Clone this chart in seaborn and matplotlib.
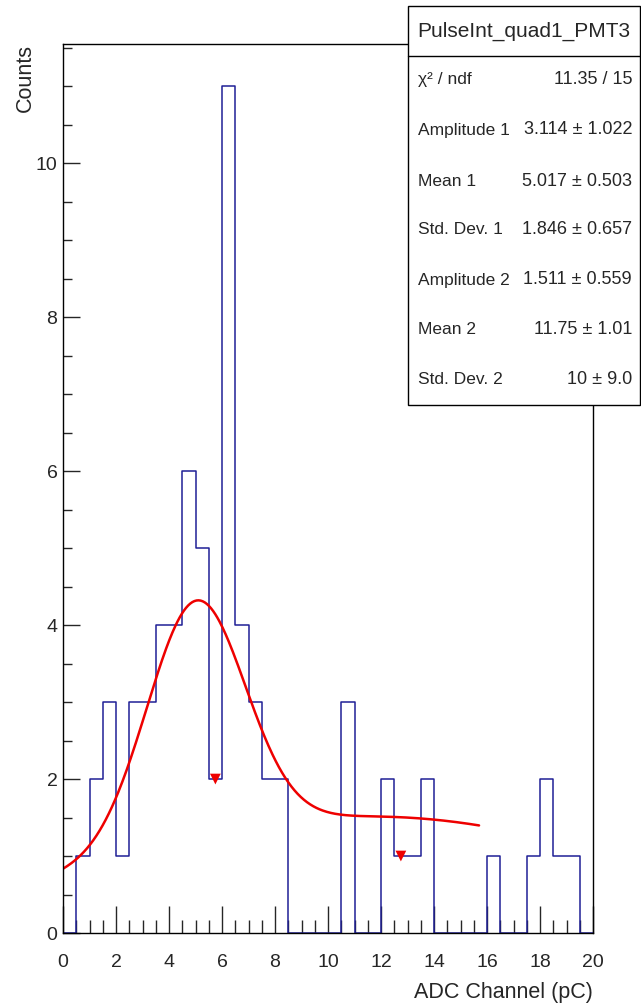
import numpy as np
import pandas as pd
import matplotlib
matplotlib.use("Agg")
import matplotlib.pyplot as plt
from matplotlib.ticker import MultipleLocator
from matplotlib.patches import Rectangle
from matplotlib.lines import Line2D
import seaborn as sns

# Histogram contents: 40 bins of 0.5 pC from 0 to 20 pC
bin_width = 0.5
x_range = (0.0, 20.0)
counts = [0, 1, 2, 3, 1, 3, 3, 4, 4, 6,
          5, 2, 11, 4, 3, 2, 2, 0, 0, 0,
          0, 3, 0, 0, 2, 1, 1, 2, 0, 0,
          0, 0, 1, 0, 0, 1, 2, 1, 1, 0]

# Double-Gaussian fit parameters
amp1, mean1, sigma1 = 3.114, 5.017, 1.846
amp2, mean2, sigma2 = 1.511, 11.75, 10.0
fit_range = (0.0, 15.7)

# Bins flagged below the fit
flag_x = [5.75, 12.75]
flag_y = [2, 1]

# Statistics box entries
hist_name = "PulseInt_quad1_PMT3"
stat_labels = ["\u03c7\u00b2 / ndf", "Amplitude 1", "Mean 1", "Std. Dev. 1",
               "Amplitude 2", "Mean 2", "Std. Dev. 2"]
stat_values = ["11.35 / 15", "3.114 \u00b1 1.022", "5.017 \u00b1 0.503",
               "1.846 \u00b1 0.657", "1.511 \u00b1 0.559", "11.75 \u00b1 1.01",
               "10 \u00b1 9.0"]

sns.set_style("white")
plt.rcParams["font.family"] = ["Liberation Sans", "DejaVu Sans"]

W, H = 641, 1008
fig = plt.figure(figsize=(W / 100, H / 100), dpi=100)
left, right, top, bottom = 63, 593, 44, 933
ax = fig.add_axes([left / W, 1 - bottom / H, (right - left) / W, (bottom - top) / H])

centers = x_range[0] + bin_width * (np.arange(len(counts)) + 0.5)
df = pd.DataFrame({"x": centers, "w": np.asarray(counts, dtype=float)})
sns.histplot(data=df, x="x", weights="w", binwidth=bin_width, binrange=x_range,
             element="step", fill=False, color="#1f1f96", linewidth=1.1, ax=ax)

xs = np.linspace(fit_range[0], fit_range[1], 400)
ys = (amp1 * np.exp(-0.5 * ((xs - mean1) / sigma1) ** 2)
      + amp2 * np.exp(-0.5 * ((xs - mean2) / sigma2) ** 2))
sns.lineplot(x=xs, y=ys, color="#ee0000", linewidth=1.8, ax=ax, sort=False)

sns.scatterplot(x=flag_x, y=flag_y, marker="v", color="#ee0000", s=60,
                edgecolor="none", ax=ax, zorder=5)

ax.set_xlim(*x_range)
ax.set_ylim(0, 11.55)
ax.set_xticks(np.arange(0, 21, 2))
ax.set_yticks(np.arange(0, 11, 2))
ax.xaxis.set_minor_locator(MultipleLocator(0.5))
ax.yaxis.set_minor_locator(MultipleLocator(0.5))
ax.tick_params(axis="x", which="major", direction="in", length=19.5, width=1,
               pad=15, labelsize=14, top=False, bottom=True)
ax.tick_params(axis="x", which="minor", direction="in", length=9.5, width=1,
               top=False, bottom=True)
ax.tick_params(axis="y", which="major", direction="in", length=12, width=1,
               pad=4, labelsize=14, left=True, right=False)
ax.tick_params(axis="y", which="minor", direction="in", length=6.5, width=1,
               left=True, right=False)
for s in ax.spines.values():
    s.set_color("black")
    s.set_linewidth(1)

ax.set_xlabel("ADC Channel (pC)", fontsize=15.5, loc="right")
ax.xaxis.set_label_coords(1.0, -(982 - bottom) / (bottom - top))
ax.xaxis.label.set_va("top")
ax.set_ylabel("Counts", fontsize=15.5, loc="top")
ax.yaxis.set_label_coords(-(left - 36) / (right - left), 1.0)

# Statistics box
bx0, by0, bx1, by1 = 408, 6, 640, 405
fig.add_artist(Rectangle((bx0 / W, 1 - by1 / H), (bx1 - bx0) / W, (by1 - by0) / H,
                         transform=fig.transFigure, facecolor="white",
                         edgecolor="black", linewidth=1, zorder=10))
fig.add_artist(Line2D([bx0 / W, bx1 / W], [1 - 56 / H, 1 - 56 / H],
                      transform=fig.transFigure, color="black", linewidth=1,
                      zorder=11))
fig.text((bx0 + bx1) / 2 / W, 1 - 31 / H, hist_name, ha="center", va="center",
         fontsize=15, zorder=12)
row_y = [80, 130, 181, 230, 280, 330, 380]
for yy, lab, val in zip(row_y, stat_labels, stat_values):
    fig.text(418 / W, 1 - yy / H, lab, ha="left", va="center", fontsize=12.5,
             zorder=12)
    fig.text(632 / W, 1 - yy / H, val, ha="right", va="center", fontsize=13,
             zorder=12)

fig.savefig("out.png", dpi=100, facecolor="white")
